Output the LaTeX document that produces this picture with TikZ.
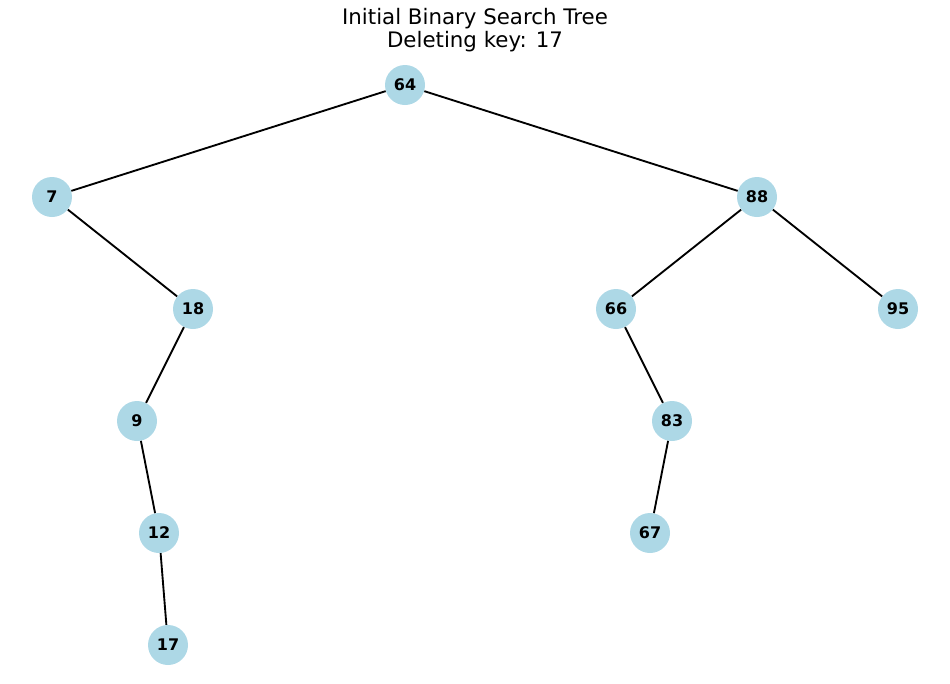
\documentclass[tikz,border=0pt]{standalone}
\usepackage{fontspec}
\setmainfont{DejaVu Sans}
\definecolor{nodeblue}{RGB}{173,216,230}
\begin{document}
\begin{tikzpicture}[x=0.75pt,y=-0.75pt,
  tnode/.style={circle,fill=nodeblue,minimum size=30pt,inner sep=0pt,font=\fontsize{12}{13}\selectfont\bfseries},
  edge/.style={line width=1.4pt,black}]
\useasboundingbox (0,0) rectangle (950,683);
\node[font=\fontsize{16}{18}\selectfont] (t1) at (475,19) {Initial Binary Search Tree};
\node[font=\fontsize{16}{18}\selectfont] (t2) at (475,42) {Deleting key: 17};
\node[tnode] (n64) at (405,85) {64};
\node[tnode] (n7) at (52,197) {7};
\node[tnode] (n88) at (757,197) {88};
\node[tnode] (n18) at (193,309) {18};
\node[tnode] (n66) at (616,309) {66};
\node[tnode] (n95) at (898,309) {95};
\node[tnode] (n9) at (137,421) {9};
\node[tnode] (n83) at (672,421) {83};
\node[tnode] (n12) at (159,533) {12};
\node[tnode] (n67) at (650,533) {67};
\node[tnode] (n17) at (168,645) {17};
\draw[edge] (n64) -- (n7);
\draw[edge] (n64) -- (n88);
\draw[edge] (n7) -- (n18);
\draw[edge] (n18) -- (n9);
\draw[edge] (n9) -- (n12);
\draw[edge] (n12) -- (n17);
\draw[edge] (n88) -- (n66);
\draw[edge] (n88) -- (n95);
\draw[edge] (n66) -- (n83);
\draw[edge] (n83) -- (n67);
\end{tikzpicture}
\end{document}
